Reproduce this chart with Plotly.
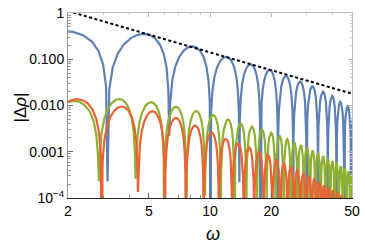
import plotly.graph_objects as go

# ---------------- data ----------------
# lobe profile (fraction of lobe width, fraction of lobe peak)
lobe_t = [0.0, 0.02, 0.06, 0.12, 0.2, 0.3, 0.4, 0.5, 0.6, 0.7, 0.8, 0.88, 0.94, 0.98]
lobe_frac = [0.0, 0.063, 0.187, 0.368, 0.588, 0.809, 0.951, 1.0, 0.951, 0.809, 0.588, 0.368, 0.187, 0.063]

blue_zeros = [0.6, 3.13, 6.3, 10.05, 13.95, 17.7, 21.6, 25.7, 29.85, 34.0, 38.0, 41.9, 45.7, 49.5, 53.3]
blue_peaks = [0.41, 0.355, 0.19, 0.113, 0.078, 0.059, 0.0435, 0.033, 0.026, 0.020, 0.016, 0.012, 0.0095, 0.0075]
blue_depth = [1e-6, 2.3e-4, 2.2e-3, 1e-6, 2.2e-4, 1e-6, 1e-6, 1e-6, 1e-6, 1e-6, 1e-6, 1e-6, 1e-6, 1e-6, 1e-6]

green_zeros = [1.45, 2.84, 4.30, 5.95, 7.65, 9.45, 11.3, 13.2, 15.1, 17.05, 19.0, 21.0, 23.0, 25.0,
               27.0, 29.0, 31.0, 33.0, 35.0, 37.0, 39.0, 41.0, 43.0, 45.0, 47.0, 49.0, 51.0]
green_peaks = [0.0125, 0.0138, 0.0118, 0.0094, 0.0076, 0.0062, 0.0050, 0.0041, 0.0035, 0.0030,
               0.00257, 0.00219, 0.00187, 0.00159, 0.0014, 0.00125, 0.00107, 0.00094, 0.00081,
               0.00072, 0.00063, 0.00057, 0.00048, 0.00044, 0.00038, 0.00034]
green_depth = [1e-6, 2.3e-4, 2.6e-4, 1e-6, 1e-6, 1.1e-4, 1e-6, 1e-6, 1e-6, 1e-6, 1e-6, 1e-6, 1e-6, 1e-6,
               1e-6, 1e-6, 1e-6, 1e-6, 1e-6, 1e-6, 1e-6, 1e-6, 1e-6, 1e-6, 1e-6, 1e-6, 1e-6]

orange_zeros = [1.5, 2.93, 4.42, 6.0, 7.6, 9.3, 11.05, 12.85, 14.65, 16.5, 18.35, 20.25, 22.15, 24.05,
                25.95, 27.85, 29.75, 31.65, 33.55, 35.45, 37.35, 39.25, 41.15, 43.05, 44.95, 46.85,
                48.75, 50.65]
orange_peaks = [0.0137, 0.0095, 0.0075, 0.0054, 0.0037, 0.0026, 0.0019, 0.0015, 0.00125, 0.00099,
                0.00085, 0.00067, 0.00057, 0.00048, 0.00041, 0.00035, 0.0003, 0.00026, 0.00022,
                0.000186, 0.000167, 0.000147, 0.00013, 0.000115, 0.0001, 0.00009, 0.00008]
orange_depth = [1e-6, 1e-6, 1.35e-4, 1e-6, 1e-6, 1e-6, 1e-6, 1e-6, 1e-6, 1e-6, 1e-6, 1e-6, 1e-6, 1e-6,
                1e-6, 1e-6, 1e-6, 1e-6, 1e-6, 1e-6, 1e-6, 1e-6, 1e-6, 1e-6, 1e-6, 1e-6, 1e-6, 1e-6]

bound_omega = [2.0, 50.0]
bound_value = [1.10, 0.018]

x_tickvals = [2, 5, 10, 20, 50]
x_ticktext = ["2", "5", "10", "20", "50"]
x_minor = [3, 4, 6, 7, 8, 9, 30, 40]
y_tickvals = [1e-4, 1e-3, 1e-2, 1e-1, 1]
y_ticktext = ["10<sup>\u22124</sup>", "0.001", "0.010", "0.100", "1"]
y_minor = [m * 10.0 ** e for e in (-4, -3, -2, -1) for m in (2, 3, 4, 5, 6, 7, 8, 9)]


def lobes(zeros, peaks, depths):
    xs, ys = [], []
    for k in range(len(peaks)):
        a, b = zeros[k], zeros[k + 1]
        for t, f in zip(lobe_t, lobe_frac):
            xs.append(a + t * (b - a))
            ys.append(depths[k] if t == 0 else peaks[k] * f)
    xs.append(zeros[-1])
    ys.append(depths[-1])
    return xs, ys


BLUE = "#5E81B5"
GREEN = "#8FB032"
ORANGE = "#EB6235"

fig = go.Figure()
for zs, ps, ds, col in [(blue_zeros, blue_peaks, blue_depth, BLUE),
                        (green_zeros, green_peaks, green_depth, GREEN),
                        (orange_zeros, orange_peaks, orange_depth, ORANGE)]:
    x, y = lobes(zs, ps, ds)
    fig.add_trace(go.Scatter(x=x, y=y, mode="lines", line=dict(color=col, width=2.2),
                             showlegend=False, hoverinfo="skip"))

fig.add_trace(go.Scatter(x=bound_omega, y=bound_value, mode="lines",
                         line=dict(color="black", width=2, dash="3px,2.5px"),
                         showlegend=False, hoverinfo="skip"))

# invisible trace to create top/right frame axes
fig.add_trace(go.Scatter(x=[10], y=[0.01], xaxis="x2", yaxis="y2", mode="lines",
                         showlegend=False, hoverinfo="skip"))

FONT = "Liberation Sans, Arial, sans-serif"
xr = [0.30103, 1.69897]
fig.update_layout(
    width=365, height=245,
    margin=dict(l=68, r=10, t=5, b=47),
    paper_bgcolor="white", plot_bgcolor="white",
    font=dict(family=FONT, size=14, color="black"),
    xaxis=dict(type="log", range=xr, tickvals=x_tickvals, ticktext=x_ticktext,
               ticks="inside", ticklen=5, tickcolor="#666", showline=True, linecolor="#222",
               linewidth=1, showgrid=False, zeroline=False, ticklabeloverflow="allow",
               minor=dict(tickvals=x_minor, ticks="inside", ticklen=3, tickcolor="#888"),
               tickfont=dict(size=14)),
    yaxis=dict(type="log", range=[-4, 0], tickvals=y_tickvals, ticktext=y_ticktext,
               ticks="inside", ticklen=5, tickcolor="#666", showline=True, linecolor="#999",
               linewidth=1, showgrid=False, zeroline=False, ticklabeloverflow="allow",
               minor=dict(tickvals=y_minor, ticks="inside", ticklen=3, tickcolor="#999"),
               tickfont=dict(size=14)),
    xaxis2=dict(type="log", range=xr, overlaying="x", side="top", anchor="y2",
                tickvals=x_tickvals, showticklabels=False, ticks="inside", ticklen=4,
                tickcolor="#bbb", showline=True, linecolor="#bbb", linewidth=1,
                showgrid=False, zeroline=False,
                minor=dict(tickvals=x_minor, ticks="inside", ticklen=2, tickcolor="#ccc")),
    yaxis2=dict(type="log", range=[-4, 0], overlaying="y", side="right", anchor="x2",
                tickvals=y_tickvals, showticklabels=False, ticks="inside", ticklen=4,
                tickcolor="#bbb", showline=True, linecolor="#bbb", linewidth=1,
                showgrid=False, zeroline=False,
                minor=dict(tickvals=y_minor, ticks="inside", ticklen=2, tickcolor="#ccc")),
    annotations=[
        dict(text="|\u0394<i>\u03c1</i>|", xref="paper", yref="paper", x=-0.167, y=0.487,
             showarrow=False, textangle=-90, font=dict(size=17, family=FONT),
             xanchor="center", yanchor="middle"),
        dict(text="<i>\u03c9</i>", xref="paper", yref="paper", x=0.512, y=-0.197,
             showarrow=False, font=dict(size=18, family=FONT), xanchor="center", yanchor="middle"),
    ],
)

fig.write_html("out.html", config={"displayModeBar": False},
               post_script="document.body.style.margin='0px';")
